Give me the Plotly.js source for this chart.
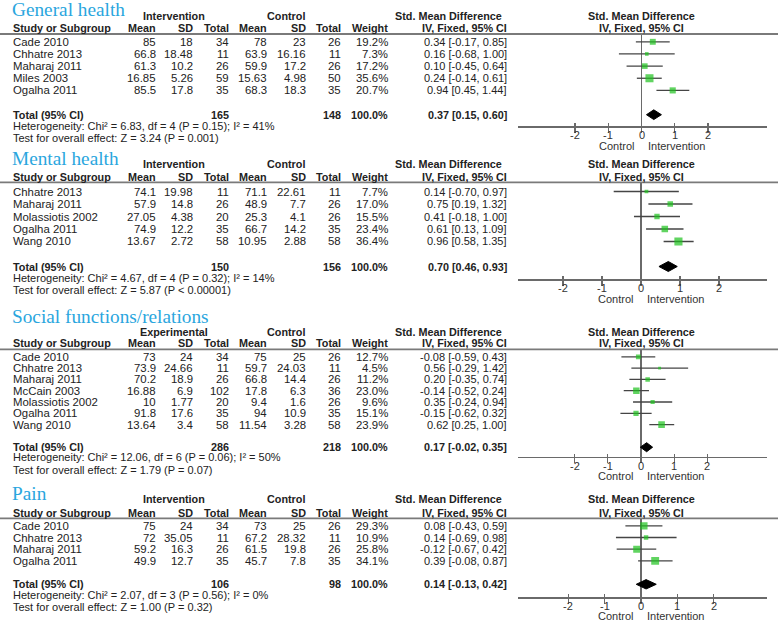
<!DOCTYPE html>
<html>
<head>
<meta charset="utf-8">
<script src="https://cdn.plot.ly/plotly-3.0.1.min.js"></script>
<style>html,body{margin:0;padding:0;background:#fff;}#chart{width:778px;height:621px;}</style>
</head>
<body>
<div id="chart"></div>
<script>
// ---------- General health ----------
const ghStudy   = ['Cade 2010','Chhatre 2013','Maharaj 2011','Miles 2003','Ogalha 2011'];
const ghIntMean = [85, 66.8, 61.3, 16.85, 85.5];
const ghIntSD   = [18, 18.48, 10.2, 5.26, 17.8];
const ghIntN    = [34, 11, 26, 59, 35];
const ghCtlMean = [78, 63.9, 59.9, 15.63, 68.3];
const ghCtlSD   = [23, 16.16, 17.2, 4.98, 18.3];
const ghCtlN    = [26, 11, 26, 50, 35];
const ghWeight  = [19.2, 7.3, 17.2, 35.6, 20.7];
const ghSMD     = [0.34, 0.16, 0.10, 0.24, 0.94];
const ghLo      = [-0.17, -0.68, -0.45, -0.14, 0.45];
const ghHi      = [0.85, 1.00, 0.64, 0.61, 1.44];
const ghTotalN  = [165, 148];
const ghTotalCI = [0.37, 0.15, 0.60];
const ghHet     = 'Heterogeneity: Chi² = 6.83, df = 4 (P = 0.15); I² = 41%';
const ghTest    = 'Test for overall effect: Z = 3.24 (P = 0.001)';

// ---------- Mental health ----------
const mhStudy   = ['Chhatre 2013','Maharaj 2011','Molassiotis 2002','Ogalha 2011','Wang 2010'];
const mhIntMean = [74.1, 57.9, 27.05, 74.9, 13.67];
const mhIntSD   = [19.98, 14.8, 4.38, 12.2, 2.72];
const mhIntN    = [11, 26, 20, 35, 58];
const mhCtlMean = [71.1, 48.9, 25.3, 66.7, 10.95];
const mhCtlSD   = [22.61, 7.7, 4.1, 14.2, 2.88];
const mhCtlN    = [11, 26, 26, 35, 58];
const mhWeight  = [7.7, 17.0, 15.5, 23.4, 36.4];
const mhSMD     = [0.14, 0.75, 0.41, 0.61, 0.96];
const mhLo      = [-0.70, 0.19, -0.18, 0.13, 0.58];
const mhHi      = [0.97, 1.32, 1.00, 1.09, 1.35];
const mhTotalN  = [150, 156];
const mhTotalCI = [0.70, 0.46, 0.93];
const mhHet     = 'Heterogeneity: Chi² = 4.67, df = 4 (P = 0.32); I² = 14%';
const mhTest    = 'Test for overall effect: Z = 5.87 (P < 0.00001)';

// ---------- Social functions/relations ----------
const sfStudy   = ['Cade 2010','Chhatre 2013','Maharaj 2011','McCain 2003','Molassiotis 2002','Ogalha 2011','Wang 2010'];
const sfIntMean = [73, 73.9, 70.2, 16.88, 10, 91.8, 13.64];
const sfIntSD   = [24, 24.66, 18.9, 6.9, 1.77, 17.6, 3.4];
const sfIntN    = [34, 11, 26, 102, 20, 35, 58];
const sfCtlMean = [75, 59.7, 66.8, 17.8, 9.4, 94, 11.54];
const sfCtlSD   = [25, 24.03, 14.4, 6.3, 1.6, 10.9, 3.28];
const sfCtlN    = [26, 11, 26, 36, 26, 35, 58];
const sfWeight  = [12.7, 4.5, 11.2, 23.0, 9.6, 15.1, 23.9];
const sfSMD     = [-0.08, 0.56, 0.20, -0.14, 0.35, -0.15, 0.62];
const sfLo      = [-0.59, -0.29, -0.35, -0.52, -0.24, -0.62, 0.25];
const sfHi      = [0.43, 1.42, 0.74, 0.24, 0.94, 0.32, 1.00];
const sfTotalN  = [286, 218];
const sfTotalCI = [0.17, -0.02, 0.35];
const sfHet     = 'Heterogeneity: Chi² = 12.06, df = 6 (P = 0.06); I² = 50%';
const sfTest    = 'Test for overall effect: Z = 1.79 (P = 0.07)';

// ---------- Pain ----------
const pnStudy   = ['Cade 2010','Chhatre 2013','Maharaj 2011','Ogalha 2011'];
const pnIntMean = [75, 72, 59.2, 49.9];
const pnIntSD   = [24, 35.05, 16.3, 12.7];
const pnIntN    = [34, 11, 26, 35];
const pnCtlMean = [73, 67.2, 61.5, 45.7];
const pnCtlSD   = [25, 28.32, 19.8, 7.8];
const pnCtlN    = [26, 11, 26, 35];
const pnWeight  = [29.3, 10.9, 25.8, 34.1];
const pnSMD     = [0.08, 0.14, -0.12, 0.39];
const pnLo      = [-0.43, -0.69, -0.67, -0.08];
const pnHi      = [0.59, 0.98, 0.42, 0.87];
const pnTotalN  = [106, 98];
const pnTotalCI = [0.14, -0.13, 0.42];
const pnHet     = 'Heterogeneity: Chi² = 2.07, df = 3 (P = 0.56); I² = 0%';
const pnTest    = 'Test for overall effect: Z = 1.00 (P = 0.32)';

const titles     = ['General health','Mental health','Social functions/relations','Pain'];
const groupNames = ['Intervention','Intervention','Experimental','Intervention'];
const sideLabels = ['Control','Intervention'];
const tickLabels = ['-2','-1','0','1','2'];
const tickValues = [-2,-1,0,1,2];

const datasets = [
  {study:ghStudy, im:ghIntMean, isd:ghIntSD, in_:ghIntN, cm:ghCtlMean, csd:ghCtlSD, cn:ghCtlN, w:ghWeight, smd:ghSMD, lo:ghLo, hi:ghHi, tn:ghTotalN, tci:ghTotalCI, het:ghHet, test:ghTest},
  {study:mhStudy, im:mhIntMean, isd:mhIntSD, in_:mhIntN, cm:mhCtlMean, csd:mhCtlSD, cn:mhCtlN, w:mhWeight, smd:mhSMD, lo:mhLo, hi:mhHi, tn:mhTotalN, tci:mhTotalCI, het:mhHet, test:mhTest},
  {study:sfStudy, im:sfIntMean, isd:sfIntSD, in_:sfIntN, cm:sfCtlMean, csd:sfCtlSD, cn:sfCtlN, w:sfWeight, smd:sfSMD, lo:sfLo, hi:sfHi, tn:sfTotalN, tci:sfTotalCI, het:sfHet, test:sfTest},
  {study:pnStudy, im:pnIntMean, isd:pnIntSD, in_:pnIntN, cm:pnCtlMean, csd:pnCtlSD, cn:pnCtlN, w:pnWeight, smd:pnSMD, lo:pnLo, hi:pnHi, tn:pnTotalN, tci:pnTotalCI, het:pnHet, test:pnTest}
];

// layout geometry (pixels)
const W = 778, H = 621;
const geo = [
  {titleY:9.6,   groupY:15.6,  colY:28.3,  lineY:34,    row0:41.8,  sp:12.15, hetY:126,   testY:138,   axisY:126,   ctlY:145.5, zero:641.5, unit:33.2},
  {titleY:158.2, groupY:164,   colY:176.7, lineY:182.3, row0:191.5, sp:12.5,  hetY:278.3, testY:289.5, axisY:279.3, ctlY:299.5, zero:641,   unit:39.0},
  {titleY:316.5, groupY:332.3, colY:343.3, lineY:349.3, row0:356.8, sp:11.3,  hetY:457.3, testY:469.5, axisY:456.7, ctlY:475.5, zero:641,   unit:33.2},
  {titleY:493.5, groupY:499.3, colY:512.7, lineY:518.3, row0:525.8, sp:11.7,  hetY:595,   testY:606.7, axisY:597.3, ctlY:615.7, zero:641,   unit:36.3}
];
const plotL = 518, plotR = 767;
const tickLabelGap = 9;
const col = {study:11.7, im:156.7, isd:193.5, in_:229.8, cm:268.3, csd:306.5, cn:341.5, w:388.5, ci:508.3, grpI:173.7, grpC:285.7, smdL:448.3, smdR:641};

const FONT = '"Liberation Sans", Arial, sans-serif';
const TXT = '#222';
const ROWSIZE = 11.4;
const annotations = [], shapes = [], traces = [];
const layout = {
  width: W, height: H, margin: {l:0, r:0, t:0, b:0},
  paper_bgcolor: '#ffffff', plot_bgcolor: 'rgba(0,0,0,0)',
  showlegend: false, annotations: annotations, shapes: shapes
};

function add(text, x, y, anchor, opt) {
  opt = opt || {};
  annotations.push({
    xref:'paper', yref:'paper', x:x/W, y:1-y/H, text:text, showarrow:false,
    xanchor:anchor, yanchor:'middle', borderpad:0,
    font:{family:opt.family||FONT, size:opt.size||11, color:opt.color||TXT}
  });
}
const B = s => '<b>' + s + '</b>';
const ci = (m,l,h) => m.toFixed(2) + ' [' + l.toFixed(2) + ', ' + h.toFixed(2) + ']';

datasets.forEach((d, k) => {
  const g = geo[k];
  const sfx = k === 0 ? '' : String(k+1);
  const osfx = String(k+5);
  const n = d.study.length;
  const BS = 10.8;
  const R = {size:ROWSIZE};

  // titles and headers
  add(titles[k], 10.5, g.titleY, 'left', {family:'"Liberation Serif", "Times New Roman", serif', size:19.3, color:'#2aa6de'});
  add(B(groupNames[k]), col.grpI, g.groupY, 'center', {size:BS});
  add(B('Control'), col.grpC, g.groupY, 'center', {size:BS});
  add(B('Std. Mean Difference'), col.smdL, g.groupY, 'center', {size:BS});
  add(B('Std. Mean Difference'), col.smdR, g.groupY, 'center', {size:BS});
  add(B('Study or Subgroup'), col.study, g.colY, 'left', {size:BS});
  add(B('Mean'), col.im, g.colY, 'right', {size:BS});
  add(B('SD'), col.isd, g.colY, 'right', {size:BS});
  add(B('Total'), col.in_, g.colY, 'right', {size:BS});
  add(B('Mean'), col.cm, g.colY, 'right', {size:BS});
  add(B('SD'), col.csd, g.colY, 'right', {size:BS});
  add(B('Total'), col.cn, g.colY, 'right', {size:BS});
  add(B('Weight'), col.w, g.colY, 'right', {size:BS});
  add(B('IV, Fixed, 95% CI'), col.ci, g.colY, 'right', {size:BS});
  add(B('IV, Fixed, 95% CI'), col.smdR, g.colY, 'center', {size:BS});

  shapes.push({type:'line', xref:'paper', yref:'paper', x0:0, x1:1, y0:1-g.lineY/H, y1:1-g.lineY/H,
               line:{color:'#7a7a7a', width:1.8}});

  // study rows
  for (let i = 0; i < n; i++) {
    const y = g.row0 + i*g.sp;
    add(d.study[i], col.study, y, 'left', R);
    add(String(d.im[i]), col.im, y, 'right', R);
    add(String(d.isd[i]), col.isd, y, 'right', R);
    add(String(d.in_[i]), col.in_, y, 'right', R);
    add(String(d.cm[i]), col.cm, y, 'right', R);
    add(String(d.csd[i]), col.csd, y, 'right', R);
    add(String(d.cn[i]), col.cn, y, 'right', R);
    add(d.w[i].toFixed(1) + '%', col.w, y, 'right', R);
    add(ci(d.smd[i], d.lo[i], d.hi[i]), col.ci, y, 'right', {size:11});
  }
  // total row
  const ty = g.row0 + (n+1)*g.sp;
  add(B('Total (95% CI)'), col.study, ty, 'left', {size:BS});
  add(B(String(d.tn[0])), col.in_, ty, 'right', {size:BS});
  add(B(String(d.tn[1])), col.cn, ty, 'right', {size:BS});
  add(B('100.0%'), col.w, ty, 'right', {size:BS});
  add(B(ci(d.tci[0], d.tci[1], d.tci[2])), col.ci, ty, 'right', {size:BS});
  add(d.het, col.study, g.hetY, 'left');
  add(d.test, col.study, g.testY, 'left');

  // forest axes
  const idx = d.study.map((s, i) => i);
  const tIdx = n + 1;
  const xr = [(plotL - g.zero)/g.unit, (plotR - g.zero)/g.unit];
  layout['xaxis' + sfx] = {
    domain:[plotL/W, plotR/W], anchor:'y' + sfx, range:xr,
    showline:true, linecolor:'#6a6a6a', linewidth:1.5,
    zeroline:true, zerolinecolor:'#6a6a6a', zerolinewidth:1.6,
    showgrid:false, ticks:'outside', ticklen:5, tickwidth:1.2, tickcolor:'#6a6a6a',
    tickmode:'array', tickvals:tickValues, showticklabels:false, fixedrange:true
  };
  // overlay axis for the upper half of the tick marks
  layout['xaxis' + osfx] = {
    domain:[plotL/W, plotR/W], anchor:'y' + sfx, overlaying:'x' + sfx, range:xr,
    showline:false, zeroline:false, showgrid:false,
    ticks:'inside', ticklen:3, tickwidth:1.2, tickcolor:'#6a6a6a',
    tickmode:'array', tickvals:tickValues, showticklabels:false, fixedrange:true
  };
  layout['yaxis' + sfx] = {
    domain:[1 - g.axisY/H, 1 - g.lineY/H], anchor:'x' + sfx,
    range:[(g.axisY - g.row0)/g.sp, (g.lineY - g.row0)/g.sp],
    visible:false, showgrid:false, zeroline:false, fixedrange:true
  };

  traces.push({
    type:'scatter', mode:'markers', xaxis:'x' + sfx, yaxis:'y' + sfx,
    x:d.smd, y:idx,
    error_x:{type:'data', symmetric:false,
             array:d.hi.map((h, i) => h - d.smd[i]),
             arrayminus:d.lo.map((l, i) => d.smd[i] - l),
             color:'#454545', thickness:1.3, width:0},
    marker:{symbol:'square', color:'#1ec21e', size:d.w.map(w => 1.35*Math.sqrt(w)), line:{width:0}},
    hoverinfo:'skip'
  });
  const c = d.tci;
  traces.push({
    type:'scatter', mode:'lines', xaxis:'x' + sfx, yaxis:'y' + sfx,
    x:[c[1], c[0], c[2], c[0], c[1]],
    y:[tIdx, tIdx - 0.4, tIdx, tIdx + 0.4, tIdx],
    fill:'toself', fillcolor:'#000', line:{color:'#000', width:1}, hoverinfo:'skip'
  });
  // dummy trace so the overlay axis is drawn
  traces.push({type:'scatter', mode:'none', xaxis:'x' + osfx, yaxis:'y' + sfx, x:[0], y:[0], hoverinfo:'skip'});

  // tick labels through the axis scale
  tickValues.forEach((v, j) => {
    annotations.push({xref:'x' + sfx, yref:'paper', x:v, y:1-(g.axisY + tickLabelGap)/H, text:tickLabels[j],
                      showarrow:false, xanchor:'center', yanchor:'middle', borderpad:0,
                      font:{family:FONT, size:11, color:'#333'}});
  });

  annotations.push({xref:'x' + sfx, yref:'paper', x:0, y:1-g.ctlY/H, text:sideLabels[0], showarrow:false,
                    xanchor:'right', yanchor:'middle', xshift:-7, borderpad:0, font:{family:FONT, size:11, color:'#333'}});
  annotations.push({xref:'x' + sfx, yref:'paper', x:0, y:1-g.ctlY/H, text:sideLabels[1], showarrow:false,
                    xanchor:'left', yanchor:'middle', xshift:5, borderpad:0, font:{family:FONT, size:11, color:'#333'}});
});

Plotly.newPlot('chart', traces, layout, {displayModeBar:false, staticPlot:true});
</script>
</body>
</html>
